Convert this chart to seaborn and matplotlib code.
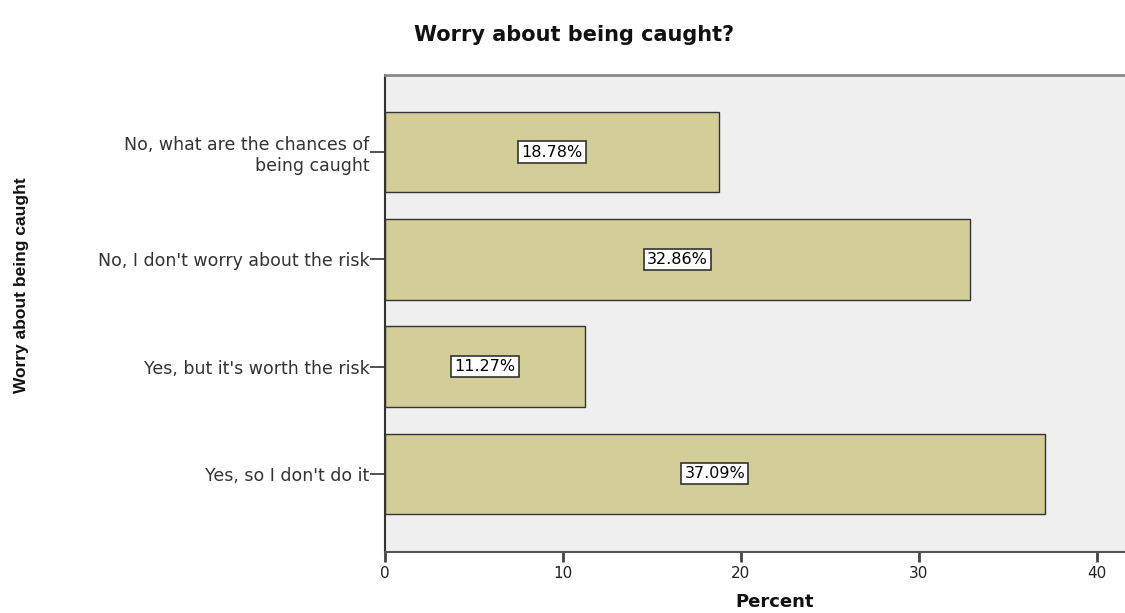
import matplotlib
matplotlib.use('Agg')
import matplotlib.pyplot as plt
import pandas as pd
import seaborn as sns

categories = ["No, what are the chances of\nbeing caught",
              "No, I don't worry about the risk",
              "Yes, but it's worth the risk",
              "Yes, so I don't do it"]
percents = [18.78, 32.86, 11.27, 37.09]
x_ticks = [0, 10, 20, 30, 40]

df = pd.DataFrame({'answer': categories, 'percent': percents})

sns.set_style('white')
plt.rcParams['font.family'] = ['DejaVu Sans']

fig = plt.figure(figsize=(11.25, 6.13), dpi=100)
ax = fig.add_axes([0.3422, 0.0995, 0.6578, 0.7782])
ax.set_facecolor('#efefef')

sns.barplot(data=df, y='answer', x='percent', orient='h', color='#d3ce97',
            saturation=1, width=0.75, edgecolor='#333333', linewidth=1, ax=ax)

# value labels in white boxes at the middle of each bar
for i, v in enumerate(percents):
    ax.text(v / 2, i, f"{v:.2f}%", ha='center', va='center', fontsize=11.5,
            color='black',
            bbox=dict(boxstyle='square,pad=0.2', facecolor='white',
                      edgecolor='#333333', linewidth=1.2))

ax.set_xlim(0, 41.6)
ax.set_ylim(3.73, -0.72)
ax.set_xticks(x_ticks)
ax.set_xticklabels([str(t) for t in x_ticks], fontsize=11, color='#222222')
ax.tick_params(axis='y', left=True, labelsize=12.5, labelcolor='#333333', length=11,
               width=1.2, color='#333333', direction='out', pad=0)
ax.tick_params(axis='x', bottom=True, length=7, width=2, color='#444444',
               direction='out', pad=3)
for lbl in ax.get_yticklabels():
    lbl.set_multialignment('right')

ax.spines['left'].set_color('#333333')
ax.spines['left'].set_linewidth(1.5)
ax.spines['bottom'].set_color('#555555')
ax.spines['bottom'].set_linewidth(1.5)
ax.spines['top'].set_color('#888888')
ax.spines['top'].set_linewidth(2)
ax.spines['right'].set_visible(False)

ax.set_xlabel('')
ax.set_ylabel('')
fig.text(0.689, 0.004, 'Percent', fontsize=13, fontweight='bold',
         ha='center', va='bottom', color='#111111')
fig.text(0.019, 0.535, 'Worry about being caught', rotation=90, fontsize=12.5,
         fontweight='bold', ha='center', va='center',
         family=['Liberation Sans'], color='#111111')
fig.text(0.51, 0.943, 'Worry about being caught?', fontsize=15,
         fontweight='bold', ha='center', va='center', color='#111111')

fig.savefig('out.png', dpi=100)
